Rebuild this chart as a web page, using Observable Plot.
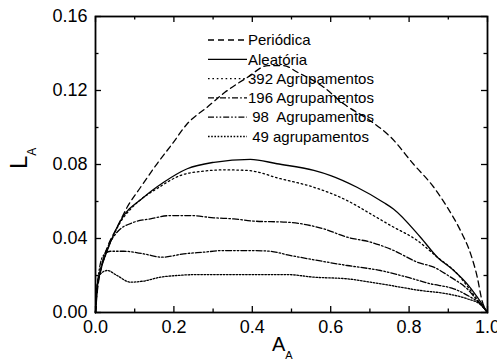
<!DOCTYPE html>
<html><head><meta charset="utf-8">
<script src="https://cdn.jsdelivr.net/npm/d3@7"></script>
<script src="https://cdn.jsdelivr.net/npm/@observablehq/plot@0.6"></script>
<style>
body{margin:0;background:#fff;}
svg{font-family:"Liberation Sans",Arial,sans-serif;}
</style>
</head><body><div id="chart"></div>
<script>
// ---- data ----
const seriesNames = ["Periódica", "Aleatória", "392 Agrupamentos", "196 Agrupamentos", " 98  Agrupamentos", " 49 agrupamentos"];

const periodicX = [0, 0.005, 0.015, 0.03, 0.055, 0.081, 0.115, 0.157, 0.196, 0.234, 0.285, 0.33, 0.387, 0.44, 0.48, 0.514, 0.582, 0.633, 0.70, 0.753, 0.812, 0.863, 0.897, 0.931, 0.957, 0.974, 0.986, 1.0];
const periodicY = [0, 0.012, 0.024, 0.035, 0.046, 0.057, 0.0677, 0.0804, 0.0912, 0.102, 0.111, 0.119, 0.127, 0.1335, 0.1335, 0.130, 0.1218, 0.1128, 0.1038, 0.0948, 0.080, 0.0677, 0.057, 0.0443, 0.0317, 0.019, 0.0065, 0];

const randomX = [0, 0.004, 0.012, 0.03, 0.064, 0.123, 0.174, 0.234, 0.302, 0.395, 0.463, 0.557, 0.6, 0.667, 0.735, 0.76, 0.829, 0.872, 0.914, 0.948, 0.974, 0.991, 1];
const randomY = [0, 0.0137, 0.022, 0.0335, 0.0497, 0.0623, 0.0704, 0.0777, 0.0812, 0.0828, 0.0804, 0.0768, 0.074, 0.0677, 0.0595, 0.056, 0.0407, 0.0299, 0.0227, 0.0155, 0.0083, 0.003, 0];

const c392X = [0, 0.004, 0.012, 0.03, 0.064, 0.09, 0.115, 0.157, 0.217, 0.276, 0.327, 0.387, 0.472, 0.557, 0.642, 0.702, 0.753, 0.821, 0.872, 0.923, 0.957, 0.982, 1];
const c392Y = [0, 0.0137, 0.022, 0.0335, 0.049, 0.056, 0.061, 0.067, 0.0741, 0.0764, 0.0771, 0.0768, 0.0723, 0.0677, 0.0605, 0.0533, 0.047, 0.0389, 0.0299, 0.0209, 0.0119, 0.0047, 0];

const c196X = [0, 0.004, 0.012, 0.021, 0.035, 0.055, 0.098, 0.14, 0.191, 0.242, 0.302, 0.353, 0.404, 0.489, 0.582, 0.642, 0.702, 0.761, 0.821, 0.863, 0.906, 0.948, 0.974, 1];
const c196Y = [0, 0.0137, 0.022, 0.030, 0.037, 0.0434, 0.0488, 0.0506, 0.0524, 0.0524, 0.0512, 0.0506, 0.0494, 0.0488, 0.0452, 0.0407, 0.038, 0.0335, 0.0272, 0.0245, 0.0191, 0.0128, 0.0065, 0];

const c98X = [0, 0.005, 0.012, 0.021, 0.038, 0.072, 0.123, 0.17, 0.225, 0.276, 0.327, 0.395, 0.446, 0.493, 0.557, 0.642, 0.727, 0.795, 0.855, 0.914, 0.957, 0.982, 1];
const c98Y = [0, 0.015, 0.026, 0.031, 0.0331, 0.0331, 0.0317, 0.0299, 0.0317, 0.0326, 0.0335, 0.0335, 0.0331, 0.031, 0.0285, 0.0254, 0.0227, 0.0191, 0.0155, 0.0128, 0.0083, 0.0047, 0];

const c49X = [0, 0.004, 0.013, 0.03, 0.055, 0.089, 0.123, 0.166, 0.208, 0.259, 0.327, 0.412, 0.489, 0.557, 0.642, 0.702, 0.753, 0.829, 0.897, 0.948, 0.982, 1];
const c49Y = [0, 0.012, 0.0209, 0.0227, 0.020, 0.0164, 0.017, 0.0191, 0.020, 0.0205, 0.0205, 0.0205, 0.0205, 0.0191, 0.0182, 0.0164, 0.0146, 0.0119, 0.0101, 0.0074, 0.0043, 0];

const xMajorTicks = [0, 0.2, 0.4, 0.6, 0.8, 1.0];
const xMinorTicks = [0.1, 0.3, 0.5, 0.7, 0.9];
const yMajorTicks = [0, 0.04, 0.08, 0.12, 0.16];
const yMinorTicks = [0.02, 0.06, 0.10, 0.14];
const xTickLabels = ["0.0", "0.2", "0.4", "0.6", "0.8", "1.0"];
const yTickLabels = ["0.00", "0.04", "0.08", "0.12", "0.16"];
const xTitle = "A", yTitle = "L", titleSub = "A";

// ---- styles ----
const dashes = ["6,4", "none", "1.6,2.8", "6,2.2,1.6,2.2", "6,2,1.6,2,1.6,2", "1.6,1.6"];
const seriesXY = [[periodicX, periodicY], [randomX, randomY], [c392X, c392Y], [c196X, c196Y], [c98X, c98Y], [c49X, c49Y]];
const series = seriesNames.map((name, i) => ({
  name, dash: dashes[i],
  rows: seriesXY[i][0].map((x, j) => ({x, y: seriesXY[i][1][j]}))
}));

const W = 497, H = 362, mL = 95, mR = 10, mT = 16, mB = 50;
const plotW = W - mL - mR, plotH = H - mT - mB;
const major = 6, minor = 3.5, tickW = 1.3;
const font = "'Liberation Sans', Arial, sans-serif";

// inward tick helpers (length measured from the frame edge)
const xTicks = (vals, len) => [
  Plot.tickX(vals, {x: d => d, stroke: "black", strokeWidth: tickW, insetTop: plotH - len}),
  Plot.tickX(vals, {x: d => d, stroke: "black", strokeWidth: tickW, insetBottom: plotH - len})
];
const yTicks = (vals, len) => [
  Plot.tickY(vals, {y: d => d, stroke: "black", strokeWidth: tickW, insetRight: plotW - len}),
  Plot.tickY(vals, {y: d => d, stroke: "black", strokeWidth: tickW, insetLeft: plotW - len})
];

const svg = Plot.plot({
  width: W, height: H,
  marginLeft: mL, marginRight: mR, marginTop: mT, marginBottom: mB,
  x: {domain: [0, 1]},
  y: {domain: [0, 0.16]},
  style: {fontFamily: font, fontSize: "18px", color: "black", background: "white"},
  marks: [
    ...series.map(s => Plot.line(s.rows, {x: "x", y: "y", stroke: "black", strokeWidth: 1.3, strokeDasharray: s.dash, curve: "monotone-x"})),
    Plot.axisX(xMajorTicks, {anchor: "bottom", tickSize: 0, tickPadding: 8, label: null, fontSize: 18, tickFormat: d => xTickLabels[xMajorTicks.indexOf(d)]}),
    Plot.axisY(yMajorTicks, {anchor: "left", tickSize: 0, tickPadding: 8, label: null, fontSize: 18, tickFormat: d => yTickLabels[yMajorTicks.indexOf(d)]}),
    ...xTicks(xMajorTicks, major),
    ...xTicks(xMinorTicks, minor),
    ...yTicks(yMajorTicks, major),
    ...yTicks(yMinorTicks, minor),
    Plot.frame({stroke: "black", strokeWidth: 1.8})
  ]
});

const root = d3.select(svg);

// axis titles with subscripts
const xt = root.append("text").attr("x", 272).attr("y", 351)
  .attr("text-anchor", "start")
  .attr("font-family", font).attr("font-size", 20).attr("fill", "black");
xt.append("tspan").text(xTitle);
xt.append("tspan").attr("font-size", 11).attr("dy", 8).text(titleSub);

const yt = root.append("text").attr("transform", "translate(27,169) rotate(-90)")
  .attr("text-anchor", "start")
  .attr("font-family", font).attr("font-size", 24).attr("fill", "black");
yt.append("tspan").text(yTitle);
yt.append("tspan").attr("font-size", 12).attr("dy", 9).text(titleSub);

// legend
const lg = root.append("g").attr("font-family", font).attr("font-size", 15).attr("text-anchor", "start");
series.forEach((s, i) => {
  const cy = 40 + i * 19.3;
  lg.append("line").attr("x1", 208).attr("x2", 247).attr("y1", cy).attr("y2", cy)
    .attr("stroke", "black").attr("stroke-width", 1.3)
    .attr("stroke-dasharray", s.dash);
  lg.append("text").attr("x", 248).attr("y", cy).attr("dy", "0.35em")
    .attr("xml:space", "preserve").style("white-space", "pre")
    .attr("fill", "black").text(s.name);
});

document.getElementById("chart").appendChild(svg);
</script>
</body></html>
